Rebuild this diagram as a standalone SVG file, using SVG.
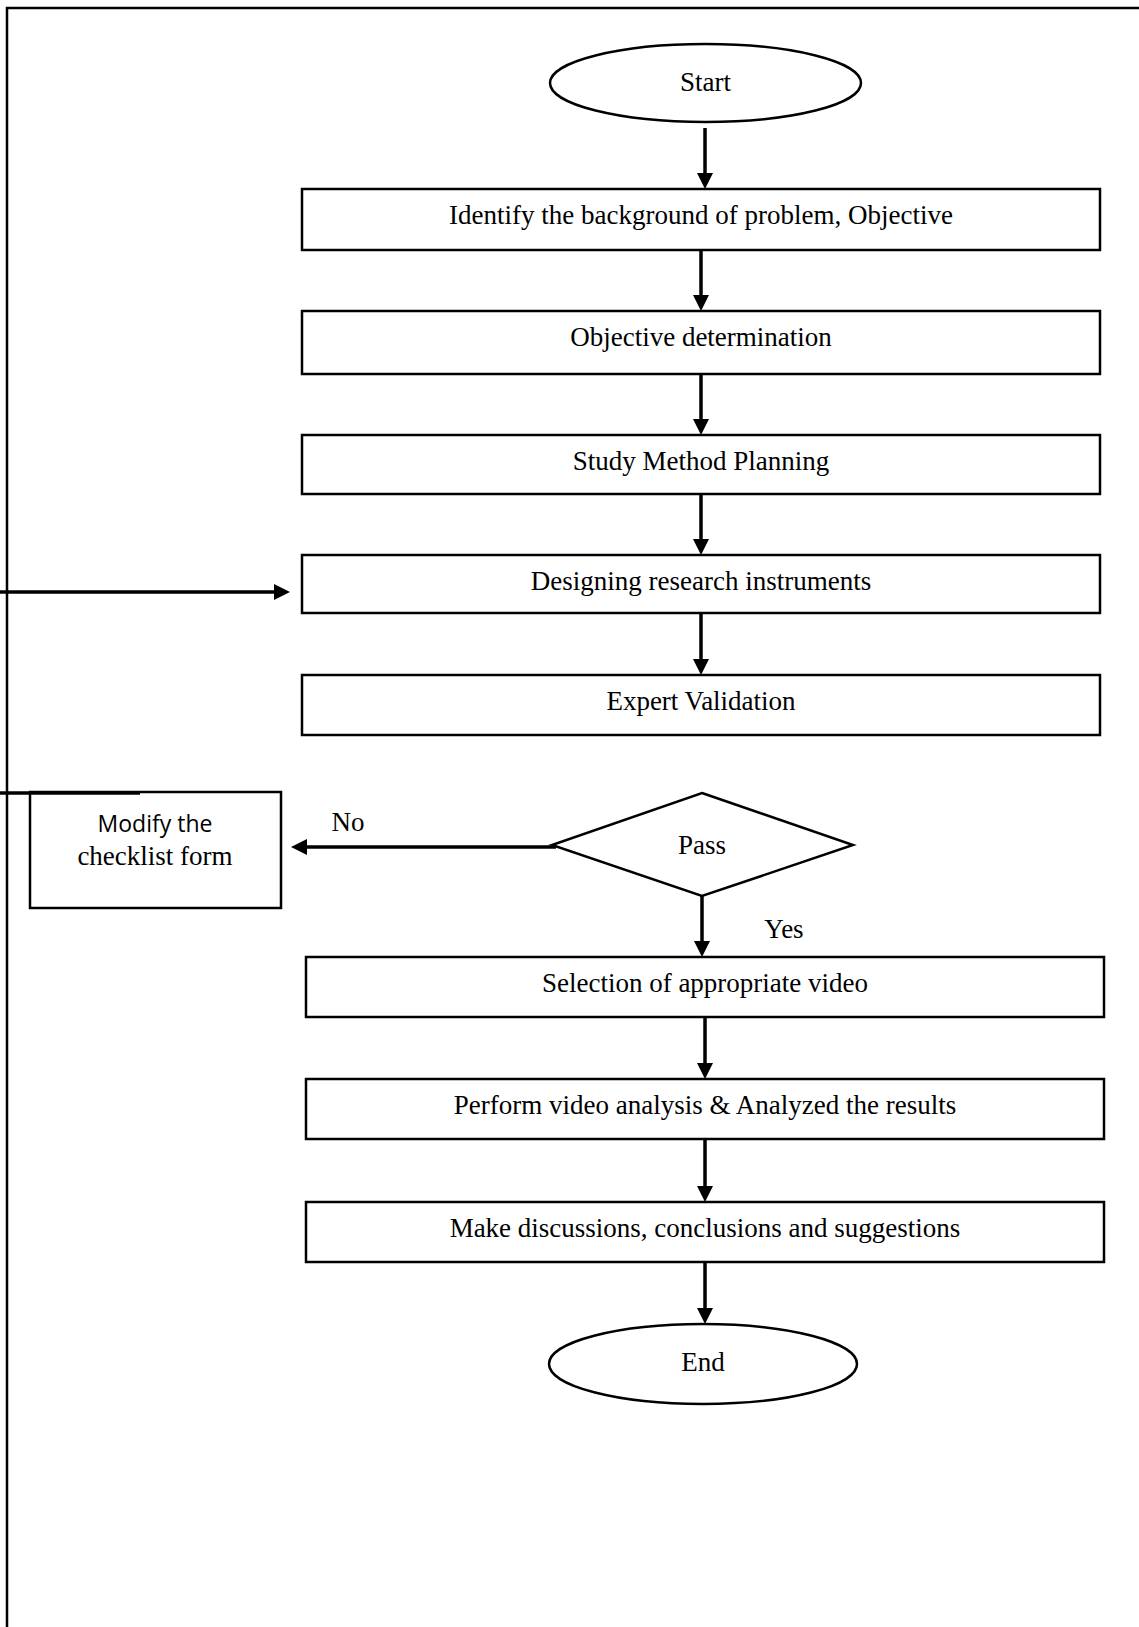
<svg xmlns="http://www.w3.org/2000/svg" width="1139" height="1627" viewBox="0 0 1139 1627">
<style>
.box{fill:#fff;stroke:#000;stroke-width:2.5}
.t{font-family:"Liberation Serif","Times New Roman",serif;font-size:27px;fill:#000;text-anchor:middle}
.s{font-family:"Open Sans","Liberation Sans",sans-serif;font-size:23px;fill:#000;text-anchor:middle}
.c{fill:none;stroke:#000;stroke-width:3.5}
.f{fill:none;stroke:#000;stroke-width:2.5}
</style>
<defs>
<marker id="ah" markerUnits="userSpaceOnUse" markerWidth="16" markerHeight="16" refX="2" refY="8" orient="auto">
<path d="M0,0 L16,8 L0,16 z" fill="#000"/>
</marker>
</defs>
<rect width="1139" height="1627" fill="#fff"/>
<g id="frame">
<path class="f" d="M7,1627 V8 H1139"/>
</g>
<g id="start">
<ellipse class="box" cx="705.5" cy="83" rx="155.5" ry="39"/>
<text class="t" x="705.5" y="91">Start</text>
</g>
<g id="n1">
<rect class="box" x="302" y="189" width="798" height="61"/>
<text class="t" x="701" y="224">Identify the background of problem, Objective</text>
</g>
<g id="n2">
<rect class="box" x="302" y="311" width="798" height="63"/>
<text class="t" x="701" y="346">Objective determination</text>
</g>
<g id="n3">
<rect class="box" x="302" y="435" width="798" height="59"/>
<text class="t" x="701" y="470">Study Method Planning</text>
</g>
<g id="n4">
<rect class="box" x="302" y="555" width="798" height="58"/>
<text class="t" x="701" y="590">Designing research instruments</text>
</g>
<g id="n5">
<rect class="box" x="302" y="675" width="798" height="60"/>
<text class="t" x="701" y="710">Expert Validation</text>
</g>
<g id="pass">
<polygon class="box" points="702,793 853,845 702,896 552,845"/>
<text class="t" x="702" y="854">Pass</text>
</g>
<g id="modify">
<rect class="box" x="30" y="792" width="251" height="116"/>
<text class="s" x="155" y="832">Modify the</text>
<text class="t" x="155" y="865">checklist form</text>
</g>
<g id="n6">
<rect class="box" x="306" y="957" width="798" height="60"/>
<text class="t" x="705" y="992">Selection of appropriate video</text>
</g>
<g id="n7">
<rect class="box" x="306" y="1079" width="798" height="60"/>
<text class="t" x="705" y="1114">Perform video analysis &amp; Analyzed the results</text>
</g>
<g id="n8">
<rect class="box" x="306" y="1202" width="798" height="60"/>
<text class="t" x="705" y="1237">Make discussions, conclusions and suggestions</text>
</g>
<g id="end">
<ellipse class="box" cx="703" cy="1364" rx="154" ry="40"/>
<text class="t" x="703" y="1371">End</text>
</g>
<g id="connectors">
<line class="c" x1="705" y1="128" x2="705" y2="175" marker-end="url(#ah)"/>
<line class="c" x1="701" y1="250" x2="701" y2="297" marker-end="url(#ah)"/>
<line class="c" x1="701" y1="374" x2="701" y2="421" marker-end="url(#ah)"/>
<line class="c" x1="701" y1="494" x2="701" y2="541" marker-end="url(#ah)"/>
<line class="c" x1="701" y1="613" x2="701" y2="661" marker-end="url(#ah)"/>
<line class="c" x1="556" y1="847" x2="305" y2="847" marker-end="url(#ah)"/>
<line class="c" x1="702" y1="896" x2="702" y2="943" marker-end="url(#ah)"/>
<line class="c" x1="705" y1="1017" x2="705" y2="1065" marker-end="url(#ah)"/>
<line class="c" x1="705" y1="1139" x2="705" y2="1188" marker-end="url(#ah)"/>
<line class="c" x1="705" y1="1262" x2="705" y2="1310" marker-end="url(#ah)"/>
<line class="c" x1="140" y1="793" x2="0" y2="793"/>
<line class="c" x1="0" y1="592" x2="276" y2="592" marker-end="url(#ah)"/>
<text class="t" x="348" y="831">No</text>
<text class="t" x="784" y="938">Yes</text>
</g>
</svg>
